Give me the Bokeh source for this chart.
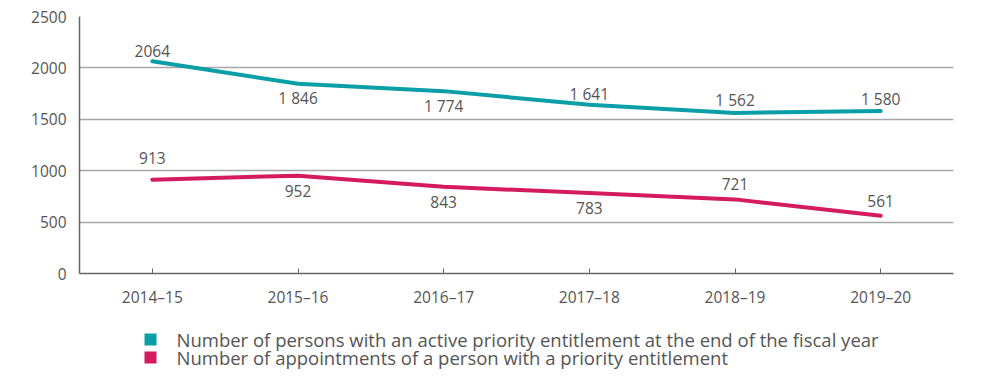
from bokeh.plotting import figure
from bokeh.layouts import column
from bokeh.models import (ColumnDataSource, FactorRange, Range1d, SingleIntervalTicker)
from bokeh.embed import file_html
from bokeh.resources import INLINE
from bokeh.core.properties import value

# ---- data ----
years = ["2014–15", "2015–16", "2016–17", "2017–18", "2018–19", "2019–20"]
active_entitlements = [2064, 1846, 1774, 1641, 1562, 1580]
active_labels = ["2064", "1 846", "1 774", "1 641", "1 562", "1 580"]
appointments = [913, 952, 843, 783, 721, 561]
appointment_labels = ["913", "952", "843", "783", "721", "561"]
series_names = [
    "Number of persons with an active priority entitlement at the end of the fiscal year",
    "Number of appointments of a person with a priority entitlement",
]

# label placement (screen-pixel offsets, negative = above)
active_offsets = [-10, 14, 15, -11, -13, -12]
appointment_offsets = [-22, 15, 15, 15, -15, -15]

TEAL = "#0a9ea7"
PINK = "#d31b5e"
FONT = "Open Sans"
TXT = "#555555"

p = figure(width=983, height=310, x_range=FactorRange(*years, range_padding=0),
           y_range=Range1d(0, 2500), output_backend="svg", toolbar_location=None,
           min_border_left=79, min_border_right=30, min_border_top=16, min_border_bottom=33)
p.outline_line_color = None
p.background_fill_color = None
p.border_fill_color = None

src1 = ColumnDataSource(dict(x=years, y=active_entitlements, t=active_labels, o=active_offsets))
src2 = ColumnDataSource(dict(x=years, y=appointments, t=appointment_labels, o=appointment_offsets))

p.line("x", "y", source=src1, line_color=TEAL, line_width=4, line_cap="round", line_join="round")
p.line("x", "y", source=src2, line_color=PINK, line_width=4, line_cap="round", line_join="round")

for src in (src1, src2):
    p.text("x", "y", text="t", y_offset="o", source=src, text_align="center",
           text_baseline="middle", text_font=value(FONT), text_font_size="15.5px",
           text_color=TXT)

# axes
p.yaxis.ticker = SingleIntervalTicker(interval=500)
p.yaxis.major_tick_line_color = None
p.yaxis.minor_tick_line_color = None
p.yaxis.axis_line_color = "#666666"
p.yaxis.axis_line_width = 1.5
p.yaxis.major_label_text_font = FONT
p.yaxis.major_label_text_font_size = "15.5px"
p.yaxis.major_label_text_color = TXT
p.yaxis.major_label_standoff = 7

p.xaxis.axis_line_color = "#666666"
p.xaxis.axis_line_width = 1.5
p.xaxis.major_tick_in = 5
p.xaxis.major_tick_out = 0
p.xaxis.major_tick_line_color = "#666666"
p.xaxis.major_label_text_font = FONT
p.xaxis.major_label_text_font_size = "15.5px"
p.xaxis.major_label_text_color = TXT
p.xaxis.major_label_standoff = 12

p.xgrid.grid_line_color = None
p.ygrid.grid_line_color = "#a6a6a6"
p.ygrid.grid_line_width = 1.5

# legend strip below the chart (its frame is aligned with the chart's frame;
# coordinates are page pixels, y pointing down)
lg = figure(width=983, height=63, output_backend="svg", toolbar_location=None,
            x_axis_type=None, y_axis_type=None,
            min_border=0, min_border_left=0, min_border_right=0,
            min_border_top=0, min_border_bottom=0,
            x_range=Range1d(79, 953), y_range=Range1d(63, 0))
lg.outline_line_color = None
lg.xgrid.visible = False
lg.ygrid.visible = False
lg.background_fill_color = None
lg.border_fill_color = None
legend_src = ColumnDataSource(dict(
    sx=[150, 150], tx=[176, 176], y=[29, 47], c=[TEAL, PINK], label=series_names))
lg.rect("sx", "y", width=12, height=12, fill_color="c", line_color=None, source=legend_src)
lg.text("tx", "y", text="label", source=legend_src, text_align="left",
        text_baseline="middle", text_font=value(FONT), text_font_size="18.5px",
        text_color=TXT)

open("out.html", "w").write(file_html(column(p, lg, spacing=0), INLINE))
